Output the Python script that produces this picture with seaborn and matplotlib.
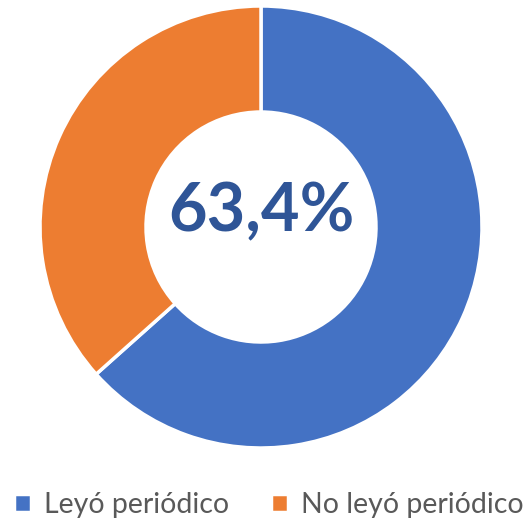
import matplotlib
matplotlib.use("Agg")
import matplotlib.pyplot as plt
import seaborn as sns

labels = ["Leyó periódico", "No leyó periódico"]
shares = [63.4, 36.6]
colors = ["#4472C4", "#ED7D31"]
center_label = "63,4%"

sns.set_theme(style="white")
plt.rcParams["font.family"] = ["Lato", "DejaVu Sans"]

fig = plt.figure(figsize=(5.27, 5.25), dpi=100)
ax = fig.add_axes([0, 0, 1, 1])

# donut: blue slice from 12 o'clock clockwise
wedges, _ = ax.pie(shares, colors=colors, startangle=90, counterclock=False,
                   center=(261, 298), radius=221, frame=True,
                   wedgeprops=dict(width=106, edgecolor="white", linewidth=2.5))
ax.set_xlim(0, 527)
ax.set_ylim(0, 525)
ax.set_aspect("equal")
ax.axis("off")

ax.text(261, 313, center_label, ha="center", va="center", fontsize=48,
        fontweight="bold", color="#2F5597")

ax.legend(wedges, labels, loc="lower center", bbox_to_anchor=(0.51, -0.035),
          ncol=2, frameon=False, fontsize=20.5, handlelength=0.6, handleheight=0.6,
          handletextpad=0.45, columnspacing=1.5, labelcolor="#595959")

fig.savefig("out.png", dpi=100)
